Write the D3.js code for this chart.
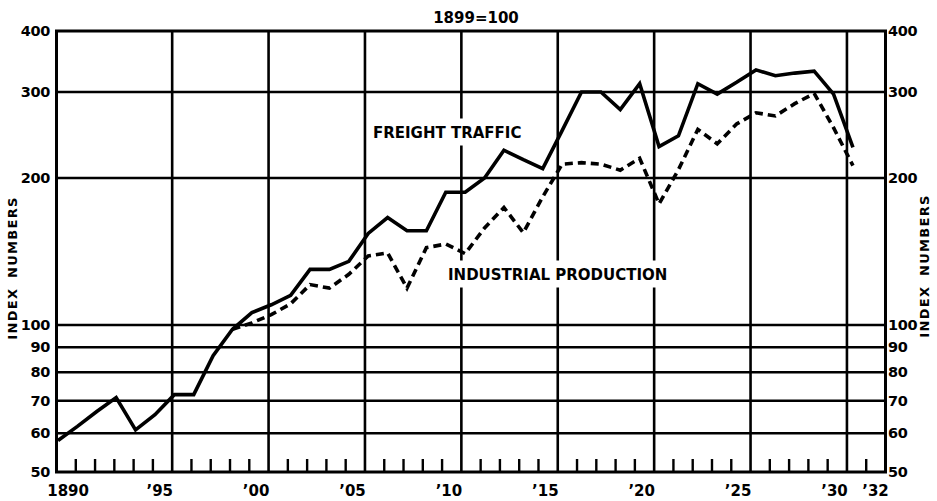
<!DOCTYPE html>
<html><head><meta charset="utf-8">
<script src="https://cdn.jsdelivr.net/npm/d3@7"></script>
<style>body{margin:0;background:#fff}svg{display:block}</style>
</head><body>
<svg id="c" width="937" height="501"></svg>
<script>
// ---------- data ----------
const freightYears = d3.range(1890, 1932);
const freightTraffic = [58, 62, 66.5, 71, 61, 65.5, 72, 72, 86.5, 98,
  106, 110, 115, 130, 130, 135, 154, 166, 156, 156,
  187, 187, 200, 228, 218, 209, 250, 300, 300, 276,
  312, 232, 244, 312, 297, 314, 333, 324, 328, 331,
  297, 231];
const industrialYears = d3.range(1899, 1932);
const industrialProduction = [98,
  101, 105, 110.5, 121, 119, 127, 138.5, 140.5, 119, 144,
  146.5, 140, 158, 174, 154.5, 183, 213.5, 215, 213.5, 207.5,
  219.5, 177, 208, 251.5, 235, 258, 272, 268, 284, 298,
  253.5, 212];
const yTickValues = [50, 60, 70, 80, 90, 100, 200, 300, 400];
const gridYears = [1896, 1901, 1906, 1911, 1916, 1921, 1926, 1931];
const tickYears = d3.range(1891, 1933);
const xLabelYears = [1890, 1895, 1900, 1905, 1910, 1915, 1920, 1925, 1930, 1932];
const xLabelTexts = ["1890", "\u201995", "\u201900", "\u201905", "\u201910", "\u201915", "\u201920", "\u201925", "\u201930", "\u201932"];
const titleText = "1899=100";
const yAxisTitle = "INDEX NUMBERS";
const seriesNames = ["FREIGHT TRAFFIC", "INDUSTRIAL PRODUCTION"];

// ---------- layout ----------
const svg = d3.select("#c");
const x = d3.scaleLinear().domain([1890, 1933]).range([56.5, 885.5]);
const y = d3.scaleLog().domain([50, 400]).range([472, 31]);
// points were drafted slightly right of the year grid
const xPlot = d3.scaleLinear().domain([1890, 1931]).range([x(1890) + 1.5, x(1931) + 6]);
const L = x.range()[0], R = x.range()[1], T = y.range()[1], B = y.range()[0];
const ink = "#000";
const boldFont = "'DejaVu Sans', sans-serif";

const grid = svg.append("g");
grid.selectAll("line.h").data(yTickValues.filter(v => v !== 50 && v !== 400)).join("line")
  .attr("x1", L).attr("x2", R).attr("y1", d => y(d)).attr("y2", d => y(d))
  .attr("stroke", ink).attr("stroke-width", 2.5);
grid.selectAll("line.v").data(gridYears).join("line")
  .attr("x1", d => x(d)).attr("x2", d => x(d)).attr("y1", T).attr("y2", B)
  .attr("stroke", ink).attr("stroke-width", 2.6);
grid.selectAll("line.t").data(tickYears.filter(t => !gridYears.includes(t))).join("line")
  .attr("x1", d => x(d)).attr("x2", d => x(d)).attr("y1", B).attr("y2", B - 13)
  .attr("stroke", ink).attr("stroke-width", 2.4);
grid.append("rect").attr("x", L).attr("y", T).attr("width", R - L).attr("height", B - T)
  .attr("fill", "none").attr("stroke", ink).attr("stroke-width", 3);

// y axes (labels only)
const fmt = d => String(d);
const axL = svg.append("g").attr("transform", `translate(${L},0)`)
  .call(d3.axisLeft(y).tickValues(yTickValues).tickFormat(fmt).tickSize(0).tickPadding(6.5));
const axR = svg.append("g").attr("transform", `translate(${R},0)`)
  .call(d3.axisRight(y).tickValues(yTickValues).tickFormat(fmt).tickSize(0).tickPadding(2.5));
[axL, axR].forEach(a => {
  a.select(".domain").remove();
  a.selectAll("text").attr("font-family", boldFont).attr("font-weight", "bold")
    .attr("font-size", 14.5).attr("fill", ink).attr("letter-spacing", -0.3);
});

// x labels
const last = xLabelYears.length - 1;
svg.append("g").selectAll("text").data(xLabelYears).join("text")
  .attr("x", (d, i) => i === 0 ? x(d + 0.5) + 2 : (i === last ? x(d) - 4 : x(d + 0.5) + 10.5))
  .attr("y", 496)
  .attr("text-anchor", (d, i) => i === 0 ? "middle" : (i === last ? "start" : "end"))
  .attr("font-family", boldFont).attr("font-weight", "bold").attr("font-size", 15)
  .attr("fill", ink).text((d, i) => xLabelTexts[i]);

// title
svg.append("text").attr("x", 476).attr("y", 23).attr("text-anchor", "middle")
  .attr("font-family", boldFont).attr("font-weight", "bold").attr("font-size", 15)
  .attr("fill", ink).text(titleText);

// rotated axis titles
[[12, 268], [924, 266]].forEach(([cx, cy]) => {
  svg.append("text").attr("transform", `translate(${cx},${cy}) rotate(-90)`)
    .attr("text-anchor", "middle").attr("dy", "0.36em")
    .attr("font-family", boldFont).attr("font-weight", "bold").attr("font-size", 13)
    .attr("letter-spacing", 1.3).attr("word-spacing", 4)
    .attr("fill", ink).text(yAxisTitle);
});

// series labels with white knockouts
const labelPos = [[373, 137.5], [448, 279.5]];
const labelsG = svg.append("g");
seriesNames.forEach((name, i) => {
  const g = labelsG.append("g");
  const t = g.append("text").attr("x", labelPos[i][0]).attr("y", labelPos[i][1])
    .attr("font-family", boldFont).attr("font-weight", "bold").attr("font-size", 15)
    .attr("fill", ink).text(name);
  const bb = t.node().getBBox();
  g.insert("rect", "text").attr("x", bb.x - 4).attr("y", bb.y - 5)
    .attr("width", bb.width + 8).attr("height", bb.height + 9).attr("fill", "#fff");
});

// series lines
const line = d3.line().x(d => xPlot(d[0])).y(d => y(d[1]));
svg.append("path").datum(freightYears.map((yr, i) => [yr, freightTraffic[i]]))
  .attr("d", line).attr("fill", "none").attr("stroke", ink).attr("stroke-width", 3.6)
  .attr("stroke-linejoin", "miter");
svg.append("path").datum(industrialYears.map((yr, i) => [yr, industrialProduction[i]]))
  .attr("d", line).attr("fill", "none").attr("stroke", ink).attr("stroke-width", 3.6)
  .attr("stroke-dasharray", "8,5");
</script>
</body></html>
